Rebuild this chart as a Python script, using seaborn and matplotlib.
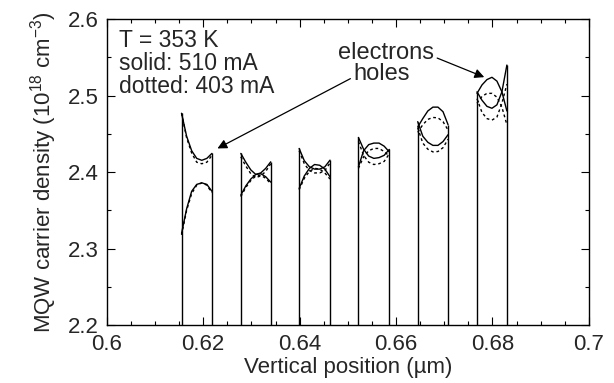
import numpy as np
import pandas as pd
import matplotlib
matplotlib.use("Agg")
import matplotlib.pyplot as plt
from matplotlib.ticker import MultipleLocator
import seaborn as sns

# ---- data ----
well_left = [0.6155, 0.6278, 0.6399, 0.6522, 0.6645, 0.6768]
well_right = [0.6218, 0.6340, 0.6463, 0.6586, 0.6708, 0.6830]
n_pts = 7  # samples per well, evenly across the well

holes_510 = [
    [2.477, 2.447, 2.428, 2.418, 2.4155, 2.418, 2.4245],
    [2.4245, 2.413, 2.403, 2.397, 2.399, 2.405, 2.4135],
    [2.431, 2.415, 2.407, 2.404, 2.404, 2.407, 2.4157],
    [2.4454, 2.430, 2.421, 2.418, 2.419, 2.422, 2.4297],
    [2.466, 2.447, 2.439, 2.435, 2.435, 2.440, 2.449],
    [2.505, 2.494, 2.486, 2.4835, 2.488, 2.505, 2.540],
]
electrons_510 = [
    [2.320, 2.352, 2.375, 2.384, 2.386, 2.384, 2.375],
    [2.370, 2.382, 2.391, 2.397, 2.398, 2.394, 2.387],
    [2.3787, 2.395, 2.405, 2.410, 2.409, 2.404, 2.394],
    [2.407, 2.428, 2.436, 2.438, 2.438, 2.434, 2.4265],
    [2.459, 2.470, 2.480, 2.485, 2.485, 2.479, 2.462],
    [2.503, 2.514, 2.521, 2.524, 2.519, 2.505, 2.480],
]
holes_403 = [
    [2.477, 2.445, 2.425, 2.413, 2.411, 2.413, 2.422],
    [2.420, 2.408, 2.398, 2.393, 2.395, 2.401, 2.411],
    [2.428, 2.411, 2.402, 2.399, 2.399, 2.402, 2.412],
    [2.440, 2.422, 2.413, 2.410, 2.411, 2.414, 2.424],
    [2.458, 2.438, 2.430, 2.4265, 2.427, 2.432, 2.443],
    [2.496, 2.478, 2.470, 2.468, 2.472, 2.490, 2.515],
]
electrons_403 = [
    [2.318, 2.350, 2.372, 2.383, 2.386, 2.383, 2.373],
    [2.368, 2.380, 2.389, 2.395, 2.396, 2.392, 2.385],
    [2.377, 2.392, 2.401, 2.405, 2.404, 2.399, 2.391],
    [2.405, 2.420, 2.428, 2.431, 2.431, 2.427, 2.421],
    [2.452, 2.462, 2.469, 2.4715, 2.471, 2.466, 2.455],
    [2.490, 2.499, 2.503, 2.503, 2.498, 2.485, 2.462],
]
baseline = 2.2

# ---- build long table ----
rows = []
series = {
    ("holes", "510 mA"): holes_510,
    ("electrons", "510 mA"): electrons_510,
    ("holes", "403 mA"): holes_403,
    ("electrons", "403 mA"): electrons_403,
}
for (carrier, current), vals in series.items():
    for w, (xl, xr) in enumerate(zip(well_left, well_right)):
        xs = np.linspace(xl, xr, n_pts)
        for x, y in zip(xs, vals[w]):
            rows.append(dict(x=x, y=y, well=w, carrier=carrier, current=current))
df = pd.DataFrame(rows)

sns.set_style("ticks")
plt.rcParams["font.family"] = ["Liberation Sans", "DejaVu Sans"]
plt.rcParams["mathtext.fontset"] = "custom"
plt.rcParams["mathtext.rm"] = "Liberation Sans"

FS = 16
fig = plt.figure(figsize=(6.14, 3.83), dpi=100)
ax = fig.add_axes([0.174, 0.151, 0.785, 0.799])

for (carrier, current), _ in series.items():
    sub = df[(df.carrier == carrier) & (df.current == current)]
    ls = "-" if current == "510 mA" else (0, (2, 2))
    sns.lineplot(data=sub, x="x", y="y", units="well", estimator=None, sort=False,
                 color="black", lw=1.0, linestyle=ls, ax=ax, legend=False)

# well edges (vertical lines down to the baseline)
left_tops = [max(h[0], e[0]) for h, e in zip(holes_510, electrons_510)]
right_tops = [max(h[-1], e[-1]) for h, e in zip(holes_510, electrons_510)]
ax.vlines(well_left, baseline, left_tops, color="black", lw=1.0)
ax.vlines(well_right, baseline, right_tops, color="black", lw=1.0)

ax.set_xlim(0.6, 0.7)
ax.set_ylim(2.2, 2.6)
ax.xaxis.set_minor_locator(MultipleLocator(0.005))
ax.yaxis.set_minor_locator(MultipleLocator(0.05))
ax.set_xticks([0.6, 0.62, 0.64, 0.66, 0.68, 0.7])
ax.set_xticklabels(["0.6", "0.62", "0.64", "0.66", "0.68", "0.7"])
ax.set_yticks([2.2, 2.3, 2.4, 2.5, 2.6])
ax.set_yticklabels(["2.2", "2.3", "2.4", "2.5", "2.6"])
ax.tick_params(which="both", direction="in", top=True, right=True, labelsize=FS,
               color="black", width=0.8)
ax.tick_params(which="major", length=6, pad=6)
ax.tick_params(which="minor", length=3)
for s in ax.spines.values():
    s.set_color("black")
    s.set_linewidth(1.0)

ax.set_xlabel("Vertical position (\u00b5m)", fontsize=FS, labelpad=2)
ax.set_ylabel("MQW carrier density (10$^{18}$ cm$^{-3}$)", fontsize=FS, labelpad=6)

ax.text(0.6025, 2.587, "T = 353 K\nsolid: 510 mA\ndotted: 403 mA", fontsize=FS + 0.5,
        va="top", ha="left", linespacing=1.0)

ax.annotate("electrons", xy=(0.6783, 2.5242), xytext=(0.6579, 2.5556),
            fontsize=FS + 1, ha="center", va="center",
            arrowprops=dict(arrowstyle="-|>", color="black", lw=0.9,
                            mutation_scale=14, shrinkA=0, shrinkB=0,
                            relpos=(1.02, 0.3)))
ax.annotate("holes", xy=(0.62295, 2.431), xytext=(0.6571, 2.528),
            fontsize=FS + 1, ha="center", va="center",
            arrowprops=dict(arrowstyle="-|>", color="black", lw=0.9,
                            mutation_scale=14, shrinkA=0, shrinkB=0,
                            relpos=(-0.06, 0.3)))

fig.savefig("out.png", dpi=100)
